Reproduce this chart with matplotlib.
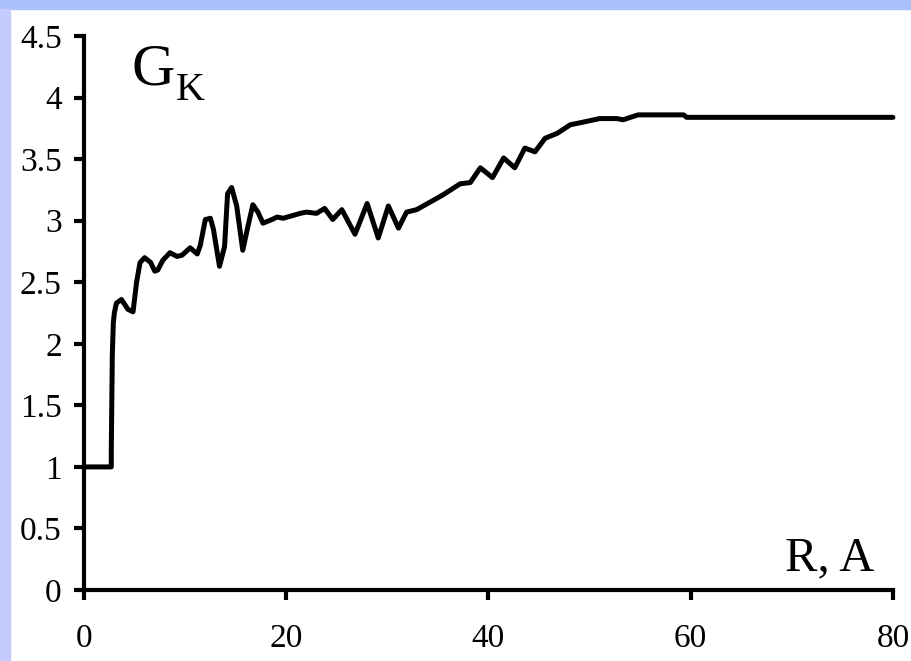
import numpy as np
import matplotlib.pyplot as plt
from matplotlib.patches import Rectangle

# values
r = [0, 2.7, 2.7, 2.8, 2.9, 3.0, 3.2, 3.7, 4.35, 4.85, 5.2, 5.54, 6.0, 6.6, 7.0, 7.3,
     7.8, 8.5, 9.2, 9.7, 10.5, 11.2, 11.5, 12.0, 12.5, 12.8, 13.4, 13.9, 14.2, 14.6,
     15.1, 15.7, 16.2, 16.7, 17.2, 17.7, 18.6, 19.1, 19.7, 21.4, 22.0, 23.0, 23.8,
     24.6, 25.5, 26.8, 28.0, 29.1, 30.1, 31.1, 31.9, 32.9, 34.2, 35.5, 37.2, 38.2,
     39.2, 40.4, 41.5, 42.6, 43.6, 44.6, 45.6, 46.8, 48.1, 49.3, 51.0, 52.7, 53.3,
     54.8, 59.3, 59.6, 80.0]
gk = [1.0, 1.0, 1.14, 1.91, 2.17, 2.25, 2.33, 2.36, 2.28, 2.26, 2.50, 2.66, 2.70, 2.66,
      2.59, 2.60, 2.68, 2.74, 2.71, 2.72, 2.78, 2.73, 2.80, 3.01, 3.02, 2.93, 2.63,
      2.79, 3.22, 3.27, 3.12, 2.76, 2.95, 3.13, 3.07, 2.98, 3.01, 3.03, 3.02, 3.06,
      3.07, 3.06, 3.10, 3.01, 3.09, 2.89, 3.14, 2.86, 3.12, 2.94, 3.07, 3.09, 3.15,
      3.21, 3.30, 3.31, 3.43, 3.35, 3.51, 3.43, 3.59, 3.56, 3.67, 3.71, 3.78, 3.80,
      3.83, 3.83, 3.82, 3.86, 3.86, 3.84, 3.84]

xticks = [0, 20, 40, 60, 80]
yticks = [0, 0.5, 1, 1.5, 2, 2.5, 3, 3.5, 4, 4.5]
ytick_labels = ['0', '0.5', '1', '1.5', '2', '2.5', '3', '3.5', '4', '4.5']

plt.rcParams['font.family'] = 'Liberation Serif'

fig = plt.figure(figsize=(9.12, 6.61), dpi=100)
fig.patches.append(Rectangle((0, 0.986), 1, 0.014, transform=fig.transFigure,
                             color='#abbfff', zorder=0))
fig.patches.append(Rectangle((0, 0), 0.011, 0.986, transform=fig.transFigure,
                             color='#c6cbff', zorder=0))

ax = fig.add_axes([0.0921, 0.1074, 0.887, 0.838])
ax.plot(r, gk, color='black', lw=3.6, solid_joinstyle='round',
        solid_capstyle='round', clip_on=False)

ax.set_xlim(0, 80)
ax.set_ylim(0, 4.5)
ax.set_xticks(xticks)
ax.set_yticks(yticks)
ax.set_yticklabels(ytick_labels)

for s in ['top', 'right']:
    ax.spines[s].set_visible(False)
for s in ['left', 'bottom']:
    ax.spines[s].set_linewidth(3)
ax.tick_params(axis='both', direction='out', length=7, width=3, labelsize=24)
ax.tick_params(axis='y', pad=9)
ax.tick_params(axis='x', pad=17)

ax.text(0.059, 0.912, 'G', transform=ax.transAxes, fontsize=43, va='baseline')
ax.text(0.114, 0.885, 'K', transform=ax.transAxes, fontsize=29, va='baseline')
ax.text(0.867, 0.035, 'R, A', transform=ax.transAxes, fontsize=35, va='baseline')

plt.savefig('out.png', dpi=100)
